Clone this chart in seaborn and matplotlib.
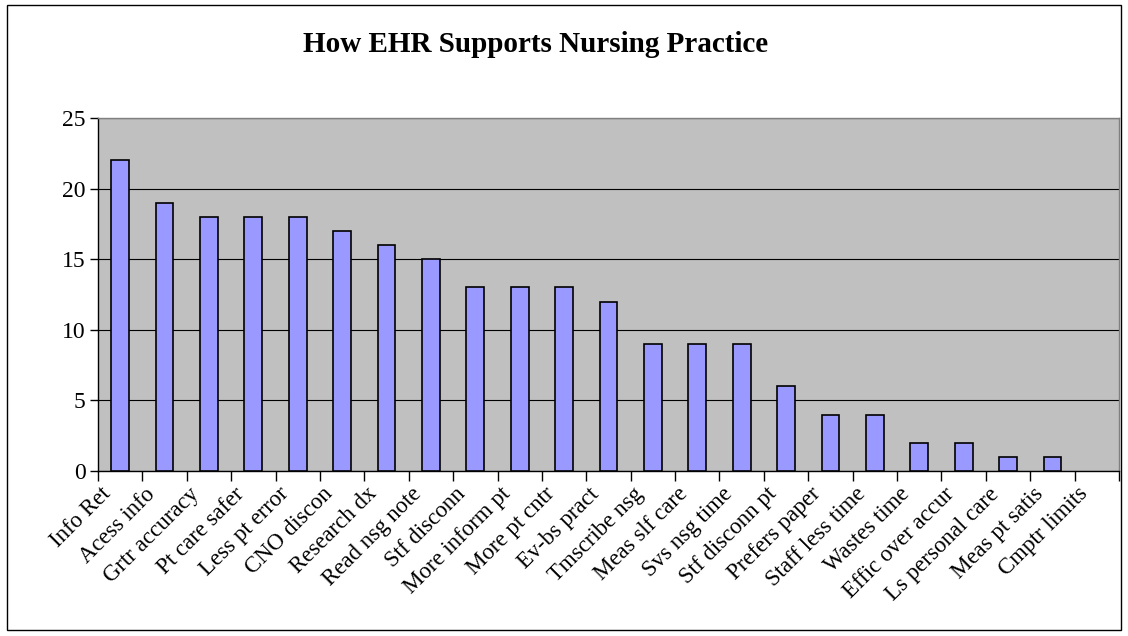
import matplotlib
matplotlib.use("Agg")
import matplotlib.pyplot as plt
import seaborn as sns
import pandas as pd
import numpy as np
from matplotlib.patches import Rectangle
from matplotlib.ticker import FixedLocator
import matplotlib.transforms as mtransforms

categories = ["Info Ret", "Acess info", "Grtr accuracy", "Pt care safer", "Less pt error",
              "CNO discon", "Research dx", "Read nsg note", "Stf disconn", "More inform pt",
              "More pt cntr", "Ev-bs pract", "Tmscribe nsg", "Meas slf care", "Svs nsg time",
              "Stf disconn pt", "Prefers paper", "Staff less time", "Wastes time",
              "Effic over accur", "Ls personal care", "Meas pt satis", "Cmptr limits"]
values = [22, 19, 18, 18, 18, 17, 16, 15, 13, 13, 13, 12, 9, 9, 9, 6, 4, 4, 2, 2, 1, 1, 0]
yticks = [0, 5, 10, 15, 20, 25]
title = "How EHR Supports Nursing Practice"

sns.set_style("white")
plt.rcParams['font.family'] = ['Liberation Serif', 'DejaVu Serif']
plt.rcParams['text.color'] = 'black'
plt.rcParams['xtick.color'] = 'black'
plt.rcParams['ytick.color'] = 'black'
plt.rcParams['xtick.labelcolor'] = 'black'
plt.rcParams['ytick.labelcolor'] = 'black'

df = pd.DataFrame({"cat": categories, "val": values})

fig = plt.figure(figsize=(11.28, 6.36), dpi=100)
fig.patches.append(Rectangle((7/1128, 1-630/636), (1121-7)/1128, (630-5)/636,
                             transform=fig.transFigure, fill=False, edgecolor='black',
                             linewidth=1.0, zorder=0))
ax = fig.add_axes([98/1128, 1-471/636, (1119-98)/1128, (471-118)/636])
ax.set_facecolor('#C0C0C0')

sns.barplot(data=df, x="cat", y="val", color="#9999FF", saturation=1, width=0.4,
            edgecolor='black', linewidth=1.2, ax=ax, zorder=3)
for p in ax.patches:
    if p.get_height() == 0:
        p.set_linewidth(0)

n = len(categories)
ax.set_xlim(-0.5, n - 0.5)
ax.set_ylim(0, 25)
ax.set_yticks(yticks)
ax.set_yticklabels([str(v) for v in yticks], fontsize=17)
ax.yaxis.grid(True, color='black', linewidth=0.8, zorder=1)
ax.set_axisbelow(True)
ax.set_xlabel("")
ax.set_ylabel("")

# category labels at centers, ticks at boundaries
ax.set_xticks(range(n))
ax.set_xticklabels(categories, rotation=45, ha='right', rotation_mode='anchor', fontsize=16.5)
ax.tick_params(axis='x', which='major', length=0, pad=9)
ax.xaxis.set_minor_locator(FixedLocator(np.arange(-0.5, n, 1.0)))
ax.tick_params(axis='x', which='minor', length=7, width=1, color='black', direction='out', bottom=True)
ax.tick_params(axis='y', which='major', length=6, width=1, color='black', direction='out', left=True, pad=3)

offset = mtransforms.ScaledTranslation(-20/100, 0, fig.dpi_scale_trans)
for lab in ax.get_xticklabels():
    lab.set_transform(lab.get_transform() + offset)

for side in ['top', 'right']:
    ax.spines[side].set_color('#808080')
    ax.spines[side].set_linewidth(1.0)
for side in ['left', 'bottom']:
    ax.spines[side].set_color('black')
    ax.spines[side].set_linewidth(1.0)
for side in ax.spines:
    ax.spines[side].set_visible(True)

fig.text(536/1128, 1-45/636, title, ha='center', va='center', fontsize=21, fontweight='bold')

fig.savefig("out.png", dpi=100)
